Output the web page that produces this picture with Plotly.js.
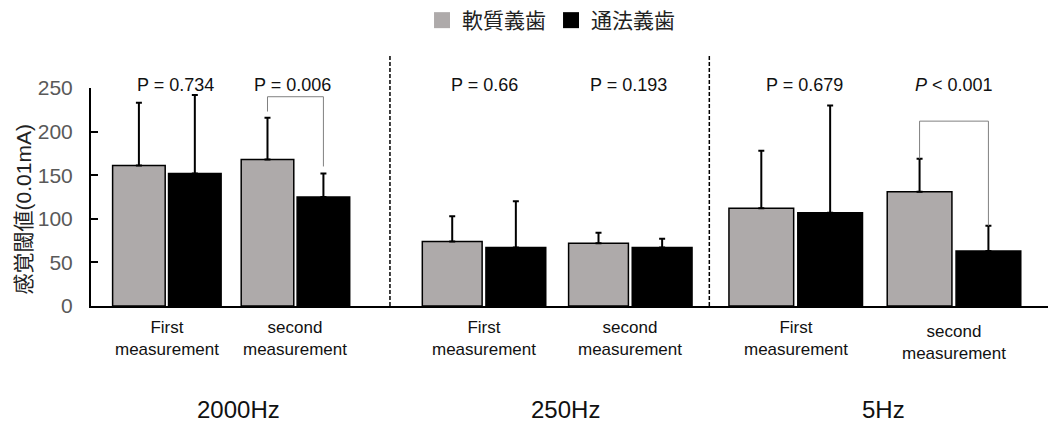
<!DOCTYPE html>
<html>
<head>
<meta charset="utf-8">
<script src="https://cdn.plot.ly/plotly-3.0.1.min.js"></script>
<style>html,body{margin:0;padding:0;background:#fff}#chart{width:1048px;height:427px}</style>
</head>
<body>
<div id="chart"></div>
<script>
// ---- data ----
var categories = ["First measurement", "second measurement"];
var frequencies = ["2000Hz", "250Hz", "5Hz"];
var seriesNames = ["軟質義歯", "通法義歯"];
var softMeans = [[161, 168], [74, 72], [112, 131]];
var softSD    = [[72, 48], [29, 12], [66, 38]];
var convMeans = [[152, 125], [67, 67], [107, 63]];
var convSD    = [[90, 27], [53, 10], [123, 29]];
var pLabels = [["P = 0.734", "P = 0.006"], ["P = 0.66", "P = 0.193"], ["P = 0.679", "<i>P</i> < 0.001"]];
var brackets = [ // [panel, category, top value, left leg bottom, right leg bottom]
  [0, 1, 240, 223, 160],
  [2, 1, 212, 169, 92]
];
var yTicks = [0, 50, 100, 150, 200, 250];

// ---- style ----
var FONT = "Liberation Sans, Arial, Noto Sans CJK JP, sans-serif";
var GRAY = "#aeaaaa";
var BARGAP = 0.13;
var domains = [[0, 0.3124], [0.3124, 0.6461], [0.6461, 1]];
var ranges = [[-0.59, 1.735], [-0.643, 1.54], [-0.546, 1.594]];
var freqX = [0.1543, 0.4953, 0.8276];
var pShift = [[0.07, -0.025], [0, -0.01], [0.056, 0]];
var seriesColors = [GRAY, "#000"];

var traces = [];
var annotations = [];
var shapes = [];
var layout = {
  width: 1048, height: 427,
  margin: {l: 91, r: 0, t: 88, b: 121},
  paper_bgcolor: "#fff", plot_bgcolor: "#fff",
  font: {family: FONT, color: "#222"},
  barmode: "group", bargap: BARGAP, bargroupgap: 0.06,
  showlegend: true,
  legend: {orientation: "h", x: 0.4807, xanchor: "center", y: 1.312, yanchor: "middle",
           itemsizing: "trace", font: {size: 21, color: "#222"}, bgcolor: "rgba(0,0,0,0)"},
  yaxis: {range: [0, 250], tickvals: yTicks, ticks: "inside", ticklen: 7, tickwidth: 2,
          tickcolor: "#000", showline: true, linecolor: "#000", linewidth: 2,
          showgrid: false, zeroline: false, ticklabelstandoff: 12,
          tickfont: {size: 21, color: "#595959"}}
};

frequencies.forEach(function (f, i) {
  var xa = i === 0 ? "x" : "x" + (i + 1);
  var xkey = i === 0 ? "xaxis" : "xaxis" + (i + 1);
  layout[xkey] = {domain: domains[i], range: ranges[i], type: "category", anchor: "y",
                  showline: true, linecolor: "#000", linewidth: 2, ticks: "",
                  showticklabels: false, showgrid: false, zeroline: false};
  traces.push({type: "bar", name: seriesNames[0], x: categories, y: softMeans[i],
               xaxis: xa, yaxis: "y", legendgroup: "s", showlegend: false,
               marker: {color: GRAY, line: {color: "#000", width: 1.5}},
               error_y: {type: "data", symmetric: false, array: softSD[i], arrayminus: [0, 0],
                         color: "#000", thickness: 2, width: 3}});
  traces.push({type: "bar", name: seriesNames[1], x: categories, y: convMeans[i],
               xaxis: xa, yaxis: "y", legendgroup: "c", showlegend: false,
               marker: {color: "#000", line: {color: "#000", width: 1.5}},
               error_y: {type: "data", symmetric: false, array: convSD[i], arrayminus: [0, 0],
                         color: "#000", thickness: 2, width: 3}});
  categories.forEach(function (c, j) {
    var parts = c.split(" ");
    annotations.push({xref: xa, yref: "paper", x: j, y: -0.147, xanchor: "center", yanchor: "middle",
                      yshift: (i === 2 && j === 1) ? -4 : 0,
                      text: parts[0] + "<br>" + parts[1], showarrow: false,
                      font: {size: 17, color: "#111"}});
    annotations.push({xref: xa, yref: "paper", x: j + pShift[i][j], y: 1.012, xanchor: "center", yanchor: "middle",
                      text: pLabels[i][j], showarrow: false, font: {size: 18, color: "#111"}});
  });
  annotations.push({xref: "paper", yref: "paper", x: freqX[i], y: -0.477, xanchor: "center", yanchor: "middle",
                    text: f, showarrow: false, font: {size: 24, color: "#111"}});
});

// legend entries (square keys, same names/colours as the bar series)
seriesNames.forEach(function (n, k) {
  traces.push({type: "scatter", mode: "markers", name: n, x: [null], y: [null],
               xaxis: "x", yaxis: "y", legendgroup: k === 0 ? "s" : "c", hoverinfo: "skip",
               marker: {symbol: "square", size: 20, color: seriesColors[k]}});
});

// y-axis title
annotations.push({xref: "paper", yref: "paper", x: -0.0711, y: 0.443, xanchor: "center", yanchor: "middle",
                  text: "感覚閾値(0.01mA)", textangle: -90, showarrow: false,
                  font: {size: 21, color: "#222"}});

// dashed panel separators
[domains[1][0], domains[2][0]].forEach(function (px) {
  shapes.push({type: "line", xref: "paper", yref: "paper", x0: px, x1: px, y0: 0, y1: 1.147,
               line: {color: "#000", width: 1.5, dash: "4px,2px"}});
});

// significance brackets
var off = (1 - BARGAP) / 4;
brackets.forEach(function (b) {
  var xa = b[0] === 0 ? "x" : "x" + (b[0] + 1);
  var xl = b[1] - off, xr = b[1] + off;
  var ln = {color: "#808080", width: 1};
  shapes.push({type: "line", xref: xa, yref: "y", x0: xl, x1: xr, y0: b[2], y1: b[2], line: ln});
  shapes.push({type: "line", xref: xa, yref: "y", x0: xl, x1: xl, y0: b[2], y1: b[3], line: ln});
  shapes.push({type: "line", xref: xa, yref: "y", x0: xr, x1: xr, y0: b[2], y1: b[4], line: ln});
});

layout.annotations = annotations;
layout.shapes = shapes;
Plotly.newPlot("chart", traces, layout, {displayModeBar: false, staticPlot: true});
</script>
</body>
</html>
